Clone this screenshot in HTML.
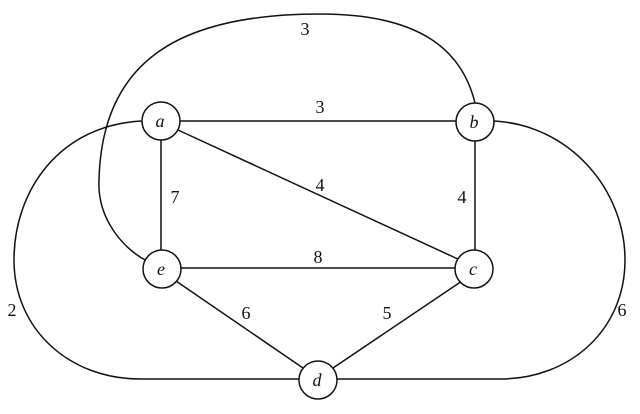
<!DOCTYPE html>
<html><head><meta charset="utf-8"><style>
html,body{margin:0;padding:0;background:#fff;}
svg{display:block;}
text{font-family:"Liberation Serif",serif;font-size:18px;fill:#111;}
</style></head><body>
<svg width="640" height="414" viewBox="0 0 640 414" xmlns="http://www.w3.org/2000/svg">
<g fill="none" stroke="#111" stroke-width="1.5">
<path d="M475,103 C462,50 420,14 320,14 C180,14 102,60 99,180 C97,220 125,250 147,261"/>
<path d="M142,121 C60,125 14,190 14,260 C14,330 70,379 140,379 L300,379"/>
<path d="M494,121 C570,125 625,190 625,260 C625,330 570,379 500,379 L337,379"/>
<line x1="180" y1="121" x2="456" y2="121"/>
<line x1="161" y1="140" x2="161" y2="250"/>
<line x1="475" y1="141" x2="475" y2="250"/>
<line x1="181" y1="268" x2="456" y2="268"/>
<line x1="178" y1="130" x2="460" y2="260"/>
<line x1="176" y1="281" x2="303" y2="368"/>
<line x1="462" y1="281" x2="333" y2="368"/>
<circle cx="161" cy="121" r="19" fill="#fff"/>
<circle cx="475" cy="122" r="19" fill="#fff"/>
<circle cx="162" cy="269" r="19" fill="#fff"/>
<circle cx="474" cy="269" r="19" fill="#fff"/>
<circle cx="318" cy="380" r="19" fill="#fff"/>
</g>
<g font-style="italic" text-anchor="middle">
<text x="160" y="127">a</text>
<text x="474" y="128">b</text>
<text x="161" y="275">e</text>
<text x="473" y="275">c</text>
<text x="317" y="386">d</text>
</g>
<g text-anchor="middle">
<text x="305" y="35">3</text>
<text x="320" y="113">3</text>
<text x="175" y="203">7</text>
<text x="320" y="191">4</text>
<text x="462" y="203">4</text>
<text x="318" y="263">8</text>
<text x="246" y="319">6</text>
<text x="387" y="319">5</text>
<text x="12" y="316">2</text>
<text x="622" y="316">6</text>
</g>
</svg>
</body></html>
